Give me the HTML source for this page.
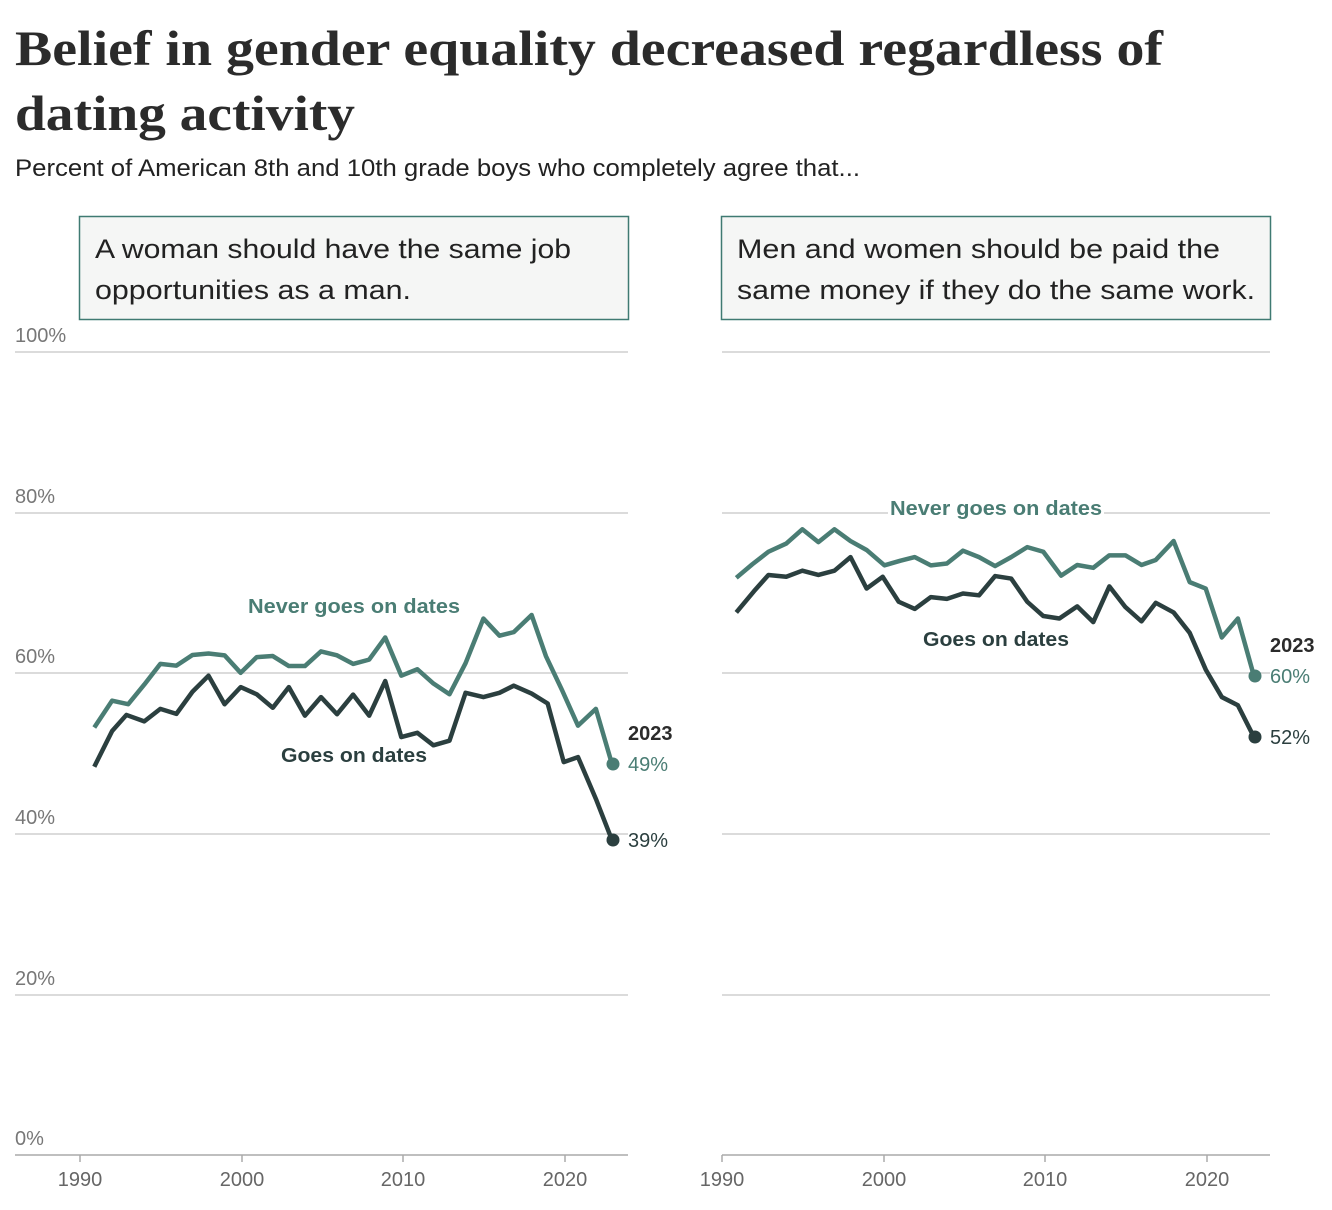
<!DOCTYPE html>
<html><head><meta charset="utf-8"><style>body{margin:0;background:#fff}svg{display:block}</style></head><body>
<svg width="1332" height="1210" xmlns="http://www.w3.org/2000/svg" font-family="'Liberation Sans','DejaVu Sans',sans-serif">
<text x="15" y="65" font-family="'Liberation Serif',serif" font-weight="bold" font-size="50" fill="#2b2b2b" textLength="1148" lengthAdjust="spacingAndGlyphs">Belief in gender equality decreased regardless of</text>
<text x="15" y="130" font-family="'Liberation Serif',serif" font-weight="bold" font-size="50" fill="#2b2b2b" textLength="340" lengthAdjust="spacingAndGlyphs">dating activity</text>
<text x="15" y="176" font-size="24" fill="#222" textLength="845" lengthAdjust="spacingAndGlyphs">Percent of American 8th and 10th grade boys who completely agree that...</text>

<rect x="79.5" y="216.5" width="549" height="103" fill="#f5f6f5" stroke="#3f7a72" stroke-width="1.5"/>
<text x="95" y="258" font-size="27" fill="#222" textLength="476" lengthAdjust="spacingAndGlyphs">A woman should have the same job</text>
<text x="95" y="299" font-size="27" fill="#222" textLength="316" lengthAdjust="spacingAndGlyphs">opportunities as a man.</text>
<rect x="721.5" y="216.5" width="549" height="103" fill="#f5f6f5" stroke="#3f7a72" stroke-width="1.5"/>
<text x="737" y="258" font-size="27" fill="#222" textLength="483" lengthAdjust="spacingAndGlyphs">Men and women should be paid the</text>
<text x="737" y="299" font-size="27" fill="#222" textLength="518" lengthAdjust="spacingAndGlyphs">same money if they do the same work.</text>

<g stroke="#cfcfcf" stroke-width="1.5">
<line x1="15" y1="352" x2="628" y2="352"/><line x1="15" y1="513" x2="628" y2="513"/><line x1="15" y1="673" x2="628" y2="673"/><line x1="15" y1="834" x2="628" y2="834"/><line x1="15" y1="995" x2="628" y2="995"/>
<line x1="722" y1="352" x2="1270" y2="352"/><line x1="722" y1="513" x2="888" y2="513"/><line x1="1104" y1="513" x2="1270" y2="513"/><line x1="722" y1="673" x2="1270" y2="673"/><line x1="722" y1="834" x2="1270" y2="834"/><line x1="722" y1="995" x2="1270" y2="995"/>
</g>
<g stroke="#aaa" stroke-width="1.5">
<line x1="15" y1="1155" x2="628" y2="1155"/><line x1="722" y1="1155" x2="1270" y2="1155"/>
<line x1="80" y1="1155" x2="80" y2="1162"/><line x1="242" y1="1155" x2="242" y2="1162"/><line x1="403" y1="1155" x2="403" y2="1162"/><line x1="565" y1="1155" x2="565" y2="1162"/>
<line x1="722" y1="1155" x2="722" y2="1162"/><line x1="884" y1="1155" x2="884" y2="1162"/><line x1="1045" y1="1155" x2="1045" y2="1162"/><line x1="1207" y1="1155" x2="1207" y2="1162"/>
</g>
<g font-size="20" fill="#777">
<text x="15" y="342">100%</text><text x="15" y="503">80%</text><text x="15" y="663">60%</text><text x="15" y="824">40%</text><text x="15" y="985">20%</text><text x="15" y="1145">0%</text>
</g>
<g font-size="20" fill="#666" text-anchor="middle">
<text x="80" y="1186">1990</text><text x="242" y="1186">2000</text><text x="403" y="1186">2010</text><text x="565" y="1186">2020</text>
<text x="722" y="1186">1990</text><text x="884" y="1186">2000</text><text x="1045" y="1186">2010</text><text x="1207" y="1186">2020</text>
</g>

<g transform="translate(80,590) scale(0.357)" fill="none" stroke-linejoin="round">
<polyline vector-effect="non-scaling-stroke" stroke="#4a7d74" stroke-width="4.5" points="40,385 90,310 135,320 180,265 225,207 270,212 315,182 360,178 405,183 450,232 495,188 540,185 585,213 630,213 675,172 720,183 765,207 810,195 855,133 900,240 945,222 990,262 1035,292 1080,205 1130,80 1175,128 1215,118 1265,70 1305,185 1350,280 1395,380 1445,333 1490,487"/>
<polyline vector-effect="non-scaling-stroke" stroke="#2b3f3f" stroke-width="4.5" points="40,495 90,395 130,350 180,368 225,333 270,347 315,285 360,240 405,320 450,272 495,292 540,330 585,272 630,352 675,300 720,348 765,293 810,352 855,255 900,412 945,400 990,435 1035,422 1080,288 1130,300 1175,288 1215,268 1265,290 1310,318 1355,482 1395,468 1445,585 1490,700"/>
</g>
<g transform="translate(722,500) scale(0.357)" fill="none" stroke-linejoin="round">
<polyline vector-effect="non-scaling-stroke" stroke="#4a7d74" stroke-width="4.5" points="40,218 85,180 130,145 180,122 225,82 270,118 315,82 360,115 405,140 455,183 500,170 540,160 585,183 630,178 675,142 720,160 765,185 810,160 855,132 900,145 950,212 995,182 1040,190 1085,155 1130,155 1175,182 1215,168 1265,115 1310,230 1355,248 1400,385 1445,332 1490,493"/>
<polyline vector-effect="non-scaling-stroke" stroke="#2b3f3f" stroke-width="4.5" points="40,315 90,255 130,210 180,215 225,198 270,210 315,198 360,160 405,248 450,215 495,285 540,305 585,272 630,277 675,262 720,267 765,213 810,220 855,285 900,325 945,332 995,298 1040,342 1085,242 1130,300 1175,340 1215,288 1265,315 1310,372 1355,475 1400,552 1445,575 1490,664"/>
</g>
<circle cx="613" cy="764" r="6.5" fill="#4a7d74"/><circle cx="613" cy="840" r="6.5" fill="#2b3f3f"/>
<circle cx="1255" cy="676" r="6.5" fill="#4a7d74"/><circle cx="1255" cy="737" r="6.5" fill="#2b3f3f"/>

<g font-size="20">
<text x="628" y="740" font-weight="bold" fill="#2b2b2b">2023</text>
<text x="628" y="771" fill="#4a7d74">49%</text>
<text x="628" y="847" fill="#2b3f3f">39%</text>
<text x="1270" y="652" font-weight="bold" fill="#2b2b2b">2023</text>
<text x="1270" y="683" fill="#4a7d74">60%</text>
<text x="1270" y="744" fill="#2b3f3f">52%</text>
<text x="248" y="613" font-weight="bold" fill="#4a7d74" textLength="212" lengthAdjust="spacingAndGlyphs">Never goes on dates</text>
<text x="281" y="762" font-weight="bold" fill="#2b3f3f" textLength="146" lengthAdjust="spacingAndGlyphs">Goes on dates</text>
<text x="890" y="515" font-weight="bold" fill="#4a7d74" textLength="212" lengthAdjust="spacingAndGlyphs">Never goes on dates</text>
<text x="923" y="646" font-weight="bold" fill="#2b3f3f" textLength="146" lengthAdjust="spacingAndGlyphs">Goes on dates</text>
</g>
</svg>
</body></html>
